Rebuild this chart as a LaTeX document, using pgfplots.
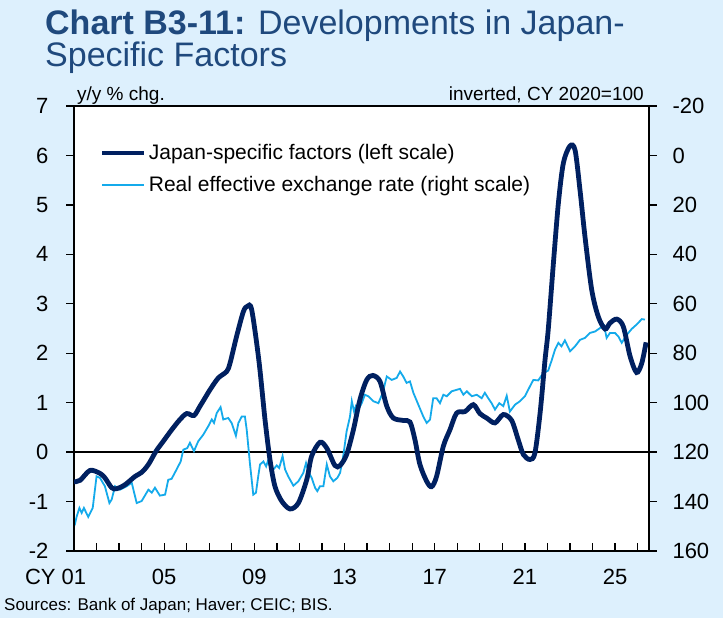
\documentclass[border=0pt]{standalone}
\usepackage{fontspec}
\setmainfont{Liberation Sans}
\usepackage{pgfplots}
\pgfplotsset{compat=1.18}
\definecolor{bg}{RGB}{221,240,253}
\definecolor{navy}{RGB}{0,32,96}
\definecolor{lblue}{RGB}{20,170,235}
\definecolor{titleblue}{RGB}{31,73,125}

\pgfplotstableread{
year reer
2001.00 150.0
2001.04 149.2
2001.12 146.0
2001.24 142.6
2001.34 144.6
2001.44 142.6
2001.63 146.2
2001.83 142.6
2002.00 129.8
2002.15 130.4
2002.37 133.8
2002.57 140.6
2002.67 139.2
2002.82 133.8
2003.04 135.2
2003.34 133.8
2003.56 132.4
2003.78 140.6
2004.00 139.8
2004.30 135.2
2004.45 136.4
2004.59 134.4
2004.81 137.6
2005.04 137.2
2005.18 131.2
2005.33 130.8
2005.55 127.0
2005.73 123.8
2005.85 119.0
2006.02 118.4
2006.14 116.2
2006.32 119.6
2006.51 115.6
2006.73 113.0
2006.95 109.6
2007.11 106.8
2007.21 108.2
2007.33 104.2
2007.50 101.8
2007.62 106.8
2007.84 106.2
2007.99 108.2
2008.18 113.4
2008.29 108.2
2008.44 105.6
2008.58 105.6
2008.66 111.0
2008.80 124.4
2008.95 137.2
2009.07 136.4
2009.17 129.8
2009.25 125.0
2009.40 123.8
2009.52 125.8
2009.62 123.0
2009.77 127.8
2009.99 125.4
2010.10 126.4
2010.25 121.6
2010.36 127.0
2010.50 129.8
2010.73 133.6
2010.95 131.8
2011.17 128.4
2011.29 124.4
2011.39 127.8
2011.54 130.4
2011.69 134.4
2011.79 135.8
2011.91 133.8
2012.06 133.8
2012.21 125.0
2012.35 129.8
2012.50 131.8
2012.68 130.4
2012.80 128.4
2012.94 121.6
2013.09 111.6
2013.24 105.6
2013.32 99.4
2013.42 103.6
2013.50 101.4
2013.61 102.8
2013.76 100.2
2013.90 96.8
2014.05 97.4
2014.27 99.4
2014.50 100.2
2014.69 96.0
2014.87 89.4
2015.09 90.8
2015.31 90.0
2015.46 87.4
2015.60 89.4
2015.75 92.0
2015.90 91.4
2016.05 96.0
2016.27 100.8
2016.49 105.6
2016.64 108.2
2016.79 106.8
2016.93 98.2
2017.08 98.2
2017.23 100.2
2017.38 96.8
2017.53 97.4
2017.75 95.4
2017.97 94.8
2018.12 94.4
2018.27 96.8
2018.42 95.4
2018.64 97.4
2018.86 96.8
2019.08 98.2
2019.22 96.0
2019.37 98.2
2019.52 100.2
2019.67 102.8
2019.86 100.2
2020.04 101.4
2020.19 97.2
2020.33 103.6
2020.56 100.8
2020.78 99.4
2021.00 97.4
2021.22 93.4
2021.37 90.8
2021.59 91.0
2021.81 88.0
2022.03 87.0
2022.18 83.0
2022.33 78.6
2022.48 75.8
2022.62 77.2
2022.77 74.8
2023.00 79.2
2023.22 77.2
2023.44 74.6
2023.66 73.8
2023.88 71.8
2024.11 71.2
2024.33 69.8
2024.51 68.8
2024.62 73.8
2024.77 71.8
2024.99 71.8
2025.14 73.2
2025.29 75.8
2025.51 72.6
2025.73 70.2
2025.95 68.4
2026.18 66.2
2026.32 66.4
}\reertable

\pgfplotstableread{
year jsf
2001.00 -0.60
2001.27 -0.57
2001.71 -0.37
2002.15 -0.43
2002.37 -0.52
2002.67 -0.72
2002.89 -0.74
2003.26 -0.66
2003.71 -0.49
2004.00 -0.41
2004.30 -0.25
2004.64 0.02
2004.96 0.22
2005.33 0.45
2005.70 0.66
2006.00 0.78
2006.32 0.74
2006.59 0.93
2007.03 1.26
2007.40 1.50
2007.77 1.63
2007.92 1.80
2008.21 2.34
2008.51 2.84
2008.69 2.95
2008.88 2.88
2009.20 1.85
2009.47 0.66
2009.69 -0.15
2009.91 -0.69
2010.21 -0.99
2010.58 -1.15
2010.95 -1.03
2011.32 -0.56
2011.54 -0.08
2011.91 0.20
2012.21 0.08
2012.57 -0.27
2012.80 -0.27
2013.09 -0.05
2013.39 0.45
2013.68 1.06
2013.98 1.46
2014.25 1.55
2014.57 1.43
2014.87 0.93
2015.16 0.69
2015.60 0.64
2015.90 0.61
2016.12 0.25
2016.34 -0.25
2016.64 -0.59
2016.86 -0.70
2017.08 -0.49
2017.38 0.12
2017.67 0.45
2017.97 0.79
2018.34 0.82
2018.71 0.96
2019.00 0.78
2019.30 0.69
2019.67 0.59
2020.04 0.76
2020.41 0.64
2020.70 0.25
2020.93 -0.05
2021.22 -0.15
2021.44 -0.02
2021.67 0.79
2021.89 1.87
2022.03 2.47
2022.26 3.82
2022.48 5.03
2022.70 5.84
2022.99 6.19
2023.22 6.11
2023.44 5.30
2023.66 4.36
2023.96 3.28
2024.25 2.74
2024.55 2.49
2024.77 2.61
2025.07 2.69
2025.36 2.54
2025.66 1.94
2025.95 1.61
2026.18 1.80
2026.37 2.22
}\jsftable

\begin{document}
\begin{tikzpicture}
\fill[bg] (0pt,0pt) rectangle (723pt,618pt);
\node[anchor=base west, inner sep=0, text=titleblue, font=\fontsize{34}{34}\selectfont] at (45pt,583pt) {\textbf{Chart B3-11:} Developments in Japan-};
\node[anchor=base west, inner sep=0, text=titleblue, font=\fontsize{34}{34}\selectfont] at (45pt,551pt) {Specific Factors};
\node[anchor=base west, inner sep=0, font=\fontsize{19}{19}\selectfont] at (77pt,517pt) {y/y \% chg.};
\node[anchor=base east, inner sep=0, font=\fontsize{19}{19}\selectfont] at (644pt,517pt) {inverted, CY 2020=100};
\node[anchor=base west, inner sep=0, font=\fontsize{17}{17}\selectfont] at (4pt,7pt) {Sources: Bank of Japan; Haver; CEIC; BIS.};

% right-scale axis (REER, inverted)
\begin{axis}[
  at={(74pt,67pt)}, anchor=south west, scale only axis,
  width=575pt, height=445pt,
  xmin=2001, xmax=2026.5, ymin=-20, ymax=160, y dir=reverse,
  axis background/.style={fill=white},
  axis line style={black, line width=1.5pt},
  xtick=\empty,
  ytick={-20,0,...,160}, ytick pos=right, tick align=outside,
  major tick length=8pt, tick style={black, line width=1.3pt},
  yticklabel style={font=\fontsize{22}{22}\selectfont, xshift=12pt, /pgf/number format/assume math mode=true},
]
\addplot[black, line width=1.4pt, forget plot] coordinates {(2000,120) (2027,120)};
\addplot[lblue, line width=1.8pt] table[x=year, y=reer] {\reertable};
\end{axis}

% x ticks
\begin{axis}[
  at={(74pt,67pt)}, anchor=south west, scale only axis,
  width=575pt, height=445pt,
  xmin=2001, xmax=2026.5, ymin=0, ymax=1,
  axis line style={draw=none},
  ytick=\empty,
  xtick={2001,...,2026}, xtick pos=left, tick align=inside,
  major tick length=8pt, tick style={black, line width=1.3pt},
  xticklabels={\llap{CY }01,,,,05,,,,09,,,,13,,,,17,,,,21,,,,25,},
  xticklabel style={font=\fontsize{22}{22}\selectfont, yshift=-15pt},
]
\end{axis}

% left-scale axis
\begin{axis}[
  at={(74pt,67pt)}, anchor=south west, scale only axis,
  width=575pt, height=445pt,
  xmin=2001, xmax=2026.5, ymin=-2, ymax=7,
  axis line style={black, line width=1.5pt},
  xtick=\empty,
  ytick={-2,...,7}, ytick pos=left, tick align=outside,
  major tick length=8pt, tick style={black, line width=1.3pt},
  yticklabel style={font=\fontsize{22}{22}\selectfont, xshift=-14pt, /pgf/number format/assume math mode=true},
  legend style={at={(0.045,0.918)}, anchor=north west, draw=none, fill=none,
    font=\fontsize{21}{21}\selectfont, row sep=11pt, inner sep=0pt},
  legend cell align=left,
  legend image code/.code={\draw[#1] (0pt,0pt) -- (42pt,0pt);},
]
\addplot[navy, line width=4.8pt, smooth, tension=0.5] table[x=year, y=jsf] {\jsftable};
\addlegendentry{Japan-specific factors (left scale)}
\addlegendimage{lblue, line width=1.8pt}
\addlegendentry{Real effective exchange rate (right scale)}
\end{axis}
\pgfresetboundingbox
\path[use as bounding box] (0pt,0pt) rectangle (723pt,618pt);
\end{tikzpicture}
\end{document}
